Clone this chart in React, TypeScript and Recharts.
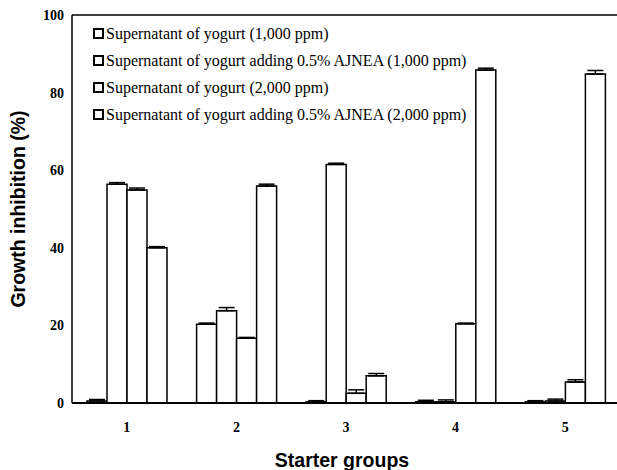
import React from 'react';
import { BarChart, Bar, XAxis, YAxis, ErrorBar, ReferenceLine, Legend } from 'recharts';

const groups = ['1', '2', '3', '4', '5'];
const seriesNames = [
  'Supernatant of yogurt (1,000 ppm)',
  'Supernatant of yogurt adding 0.5% AJNEA (1,000 ppm)',
  'Supernatant of yogurt (2,000 ppm)',
  'Supernatant of yogurt adding 0.5% AJNEA (2,000 ppm)',
];
const yogurt1000 = [0.5, 20.3, 0.3, 0.3, 0.3];
const ajnea1000 = [56.4, 23.8, 61.5, 0.3, 0.5];
const yogurt2000 = [54.9, 16.7, 2.5, 20.4, 5.4];
const ajnea2000 = [40.0, 55.9, 7.0, 85.8, 84.8];
const yogurt1000Err = [0.4, 0.3, 0.3, 0.4, 0.3];
const ajnea1000Err = [0.4, 0.8, 0.3, 0.5, 0.5];
const yogurt2000Err = [0.5, 0.2, 0.9, 0.2, 0.6];
const ajnea2000Err = [0.3, 0.5, 0.6, 0.5, 0.9];
const yTicks = [0, 20, 40, 60, 80, 100];

const data = groups.map((g, i) => ({
  group: g,
  s1: yogurt1000[i], e1: [0, yogurt1000Err[i]],
  s2: ajnea1000[i], e2: [0, ajnea1000Err[i]],
  s3: yogurt2000[i], e3: [0, yogurt2000Err[i]],
  s4: ajnea2000[i], e4: [0, ajnea2000Err[i]],
}));

const serif = '"Liberation Serif", "Times New Roman", serif';
const sans = '"Liberation Sans", Arial, sans-serif';

const renderLegend = () => (
  <div style={{ fontFamily: serif, fontSize: 16, color: '#000' }}>
    {seriesNames.map((n) => (
      <div key={n} style={{ display: 'flex', alignItems: 'center', height: 27, whiteSpace: 'nowrap' }}>
        <span style={{ display: 'inline-block', width: 11, height: 11, border: '2px solid #000', boxSizing: 'border-box', marginRight: 2 }} />
        <span>{n}</span>
      </div>
    ))}
  </div>
);

const keys = ['s1', 's2', 's3', 's4'];
const errKeys = ['e1', 'e2', 'e3', 'e4'];

export default function App() {
  return (
    <div style={{ position: 'absolute', left: 0, top: 0, width: 617, height: 470, overflow: 'hidden', background: '#fff' }}>
      <BarChart
        width={620}
        height={470}
        data={data}
        margin={{ top: 15, right: 0, left: 0, bottom: 0 }}
        barGap={0}
        barSize={20}
      >
        <XAxis
          dataKey="group"
          height={67}
          tickLine={false}
          tickSize={6}
          tickMargin={13}
          axisLine={{ stroke: '#000', strokeWidth: 2 }}
          tick={{ fill: '#000', fontFamily: serif, fontWeight: 'bold', fontSize: 14 }}
          label={{ value: 'Starter groups', position: 'insideBottom', offset: 3, dx: -4, style: { fontFamily: sans, fontWeight: 'bold', fontSize: 19.5, fill: '#000' } }}
        />
        <YAxis
          width={72}
          domain={[0, 100]}
          ticks={yTicks}
          tickLine={false}
          tickSize={6}
          tickMargin={2}
          axisLine={{ stroke: '#000', strokeWidth: 1.5 }}
          tick={{ fill: '#000', fontFamily: serif, fontWeight: 'bold', fontSize: 14 }}
          label={{ value: 'Growth inhibition (%)', angle: -90, position: 'insideLeft', offset: 18, style: { textAnchor: 'middle', fontFamily: sans, fontWeight: 'bold', fontSize: 19.5, fill: '#000' } }}
        />
        <ReferenceLine y={100} stroke="#000" strokeWidth={1.5} />
        <Legend
          content={renderLegend}
          layout="vertical"
          verticalAlign="middle"
          align="center"
          wrapperStyle={{ left: 93, top: 20, width: 'auto' }}
        />
        {keys.map((k, i) => (
          <Bar key={k} dataKey={k} name={seriesNames[i]} fill="#fff" stroke="#000" strokeWidth={1.5} isAnimationActive={false}>
            <ErrorBar dataKey={errKeys[i]} width={8} stroke="#000" strokeWidth={1.5} direction="y" />
          </Bar>
        ))}
      </BarChart>
    </div>
  );
}
